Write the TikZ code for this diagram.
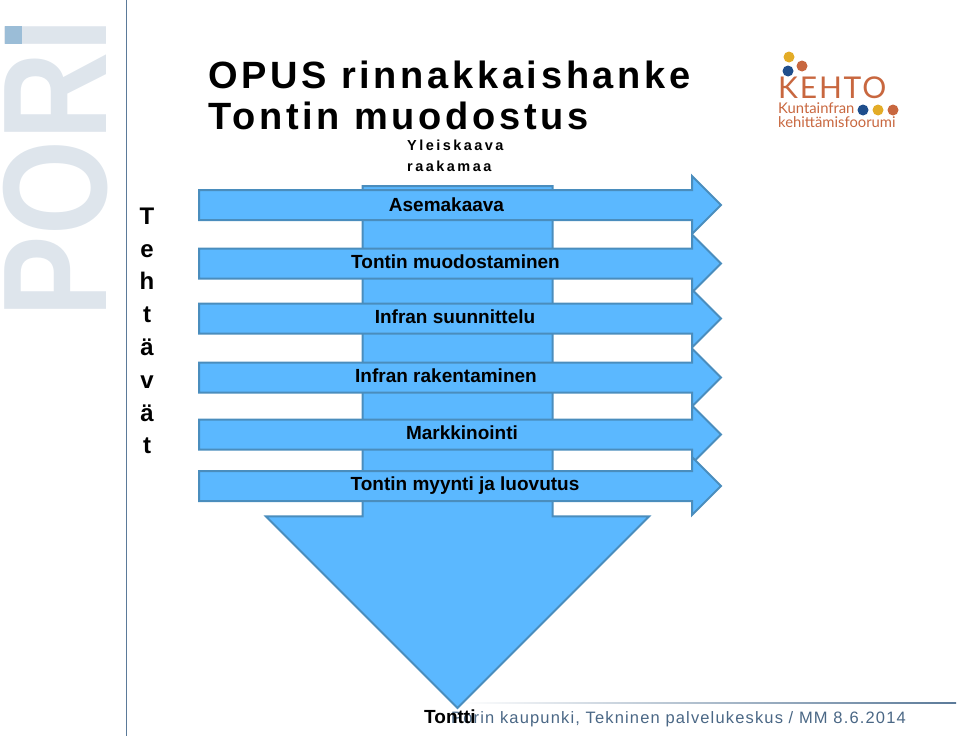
\documentclass[tikz,border=0pt]{standalone}
\usepackage{fontspec}
\setmainfont{Liberation Sans}
\newfontfamily\titlefont[LetterSpace=9.7]{Liberation Sans}
\newfontfamily\smallfont[LetterSpace=17]{Liberation Sans}
\newfontfamily\footfont[LetterSpace=7]{Liberation Sans}
\newfontfamily\logofont{Lato}
\newfontfamily\kehtofont[LetterSpace=6]{Lato}
\usepackage{graphicx}
\usetikzlibrary{shapes.arrows, positioning}
\definecolor{bandfill}{HTML}{5BB8FF}
\definecolor{bandline}{HTML}{4A8DBD}
\definecolor{watermark}{HTML}{DEE5EC}
\definecolor{slateline}{HTML}{5B7A99}
\definecolor{slatetext}{HTML}{4A6785}
\definecolor{logoorange}{HTML}{C8673F}
\definecolor{logoyellow}{HTML}{E3AC27}
\definecolor{logoblue}{HTML}{1F4E8C}

\begin{document}
\begin{tikzpicture}[
    x=1pt, y=-1pt,
    mainarrow/.style={single arrow, draw=bandline, fill=bandfill, line width=2pt, inner sep=0pt, anchor=tail, shape border rotate=270, minimum height=522pt, minimum width=381pt, single arrow head extend=96.5pt, single arrow head indent=0pt},
    phasearrow/.style={single arrow, draw=bandline, fill=bandfill, line width=2pt, inner sep=0pt, anchor=tail, minimum height=522pt, minimum width=56pt, single arrow head extend=14pt, single arrow head indent=0pt},
    phaselabel/.style={font=\bfseries\fontsize{19}{21}\selectfont, text=black, inner sep=0pt},
    logotext/.style={font=\logofont\fontsize{14.8}{16}\selectfont, text=logoorange, anchor=base west, inner sep=0pt},
    dot/.style={circle, minimum size=11pt, inner sep=0pt}
]
\useasboundingbox (0,0) rectangle (960,736);
% side banner
\node (pori) at (56,168) [text=watermark, font=\bfseries\fontsize{148}{148}\selectfont, inner sep=0pt] {\rotatebox{90}{\scalebox{.825}[1]{PORI}}};
\fill [fill=bandline!45!watermark] (5,26) rectangle (22,44);
\draw [slateline, line width=1pt] (126,0) -- (126,736);
% headings
\node (title1) at (208,88) [anchor=base west, inner sep=0pt, font=\titlefont\bfseries\fontsize{38}{42}\selectfont] {OPUS rinnakkaishanke};
\node (title2) at (208,129) [anchor=base west, inner sep=0pt, font=\titlefont\bfseries\fontsize{38}{42}\selectfont] {Tontin muodostus};
\node (side) at (147,331) [align=center, inner sep=0pt, font=\bfseries\fontsize{24}{32.8}\selectfont] {T\\e\\h\\t\\ä\\v\\ä\\t};
\node (raw1) at (407,150) [anchor=base west, inner sep=0pt, font=\smallfont\bfseries\fontsize{14.5}{16}\selectfont] {Yleiskaava};
\node (raw2) at (407,171) [anchor=base west, inner sep=0pt, font=\smallfont\bfseries\fontsize{14.5}{16}\selectfont] {raakamaa};
% footer rule
\shade [left color=white, right color=slateline] (458,702.5) rectangle (956,703.5);
% arrows
\node (flow) at (457.5,185) [mainarrow] {\rule{188pt}{0pt}};
\foreach \yy/\ly/\xx/\lab [count=\i] in {205/205/446.5/Asemakaava, 263.5/262/455.5/Tontin muodostaminen, 318.5/317/455/Infran suunnittelu, 377.5/376/446/Infran rakentaminen, 434.5/433/462/Markkinointi, 486/486/465/Tontin myynti ja luovutus}{
    \node (phase\i) at (198,\yy) [phasearrow] {\rule{0pt}{28pt}};
    \node (label\i) at (\xx,\ly) [phaselabel] {\lab};
}
% footer
\node (foot) at (451,723) [anchor=base west, inner sep=0pt, text=slatetext, font=\footfont\fontsize{16.5}{18}\selectfont] {Porin kaupunki, Tekninen palvelukeskus / MM 8.6.2014};
\node (result) at (424,723) [anchor=base west, inner sep=0pt, font=\bfseries\fontsize{19}{21}\selectfont] {Tontti};
% logo
\node (dot1) at (789,57) [dot, fill=logoyellow] {};
\node (dot2) at (802,66) [dot, fill=logoorange] {};
\node (dot3) at (788,71) [dot, fill=logoblue] {};
\node (kehto) at (778,98) [logotext, font=\kehtofont\fontsize{30}{32}\selectfont] {KEHTO};
\node (kunta) at (778,113) [logotext] {Kuntainfran};
\node (forum) at (778,127) [logotext] {kehittämisfoorumi};
\node (dot4) at (863,110) [dot, fill=logoblue] {};
\node (dot5) at (878,110) [dot, fill=logoyellow] {};
\node (dot6) at (893,110) [dot, fill=logoorange] {};
\end{tikzpicture}
\end{document}
